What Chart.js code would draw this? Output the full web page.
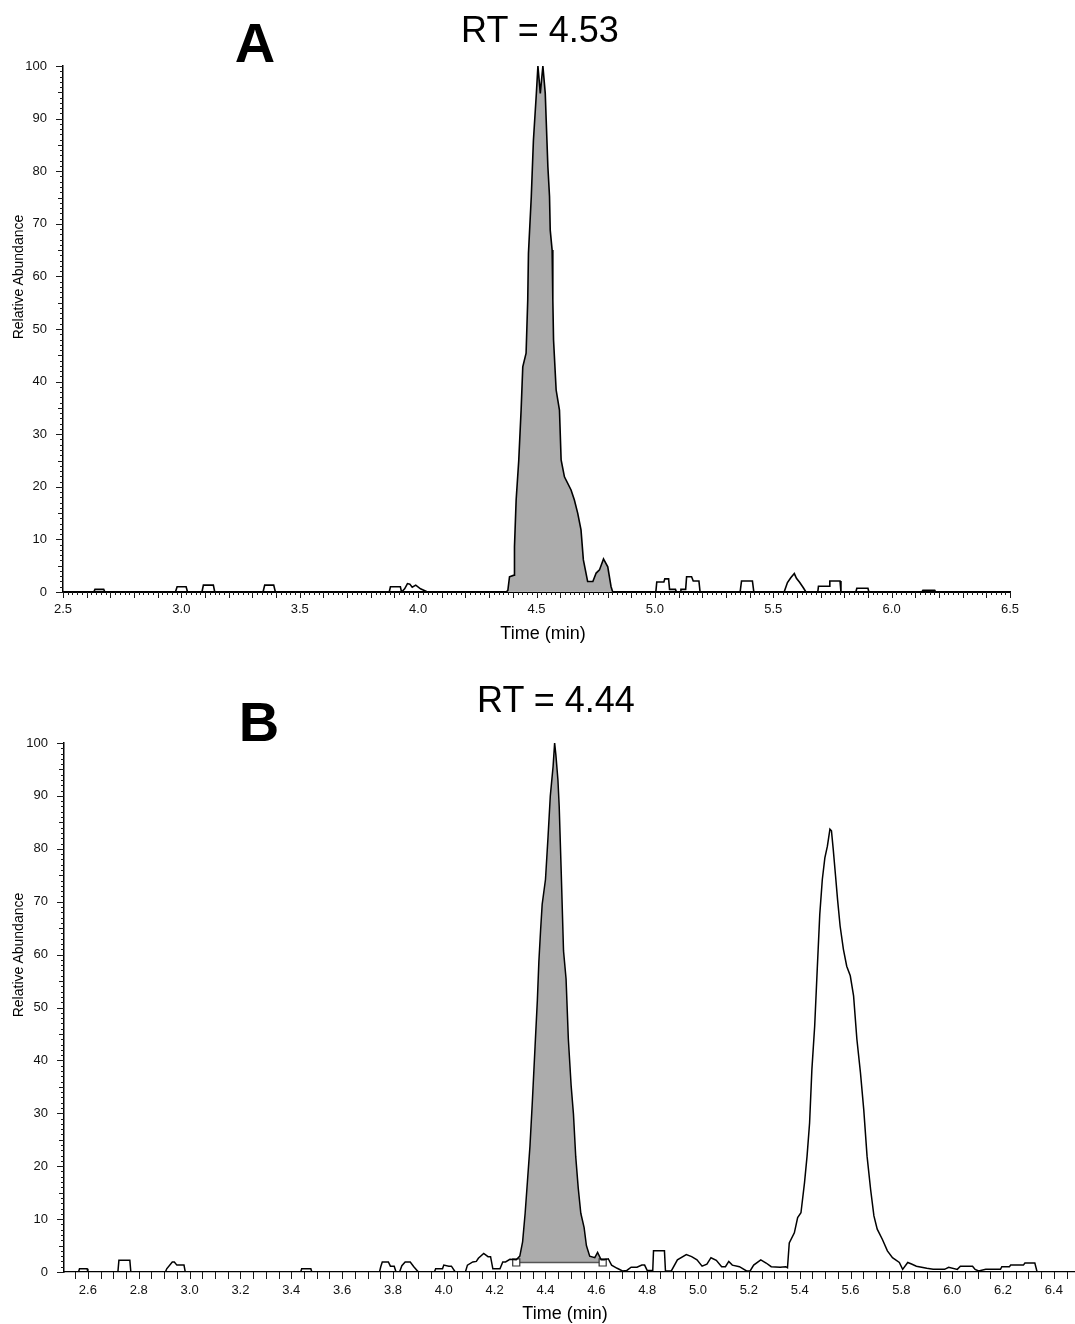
<!DOCTYPE html>
<html>
<head>
<meta charset="utf-8">
<script src="https://cdn.jsdelivr.net/npm/chart.js@4.4.1/dist/chart.umd.min.js"></script>
<style>
  body { margin: 0; background: #fff; font-family: "Liberation Sans", Arial, sans-serif; }
  #page { position: relative; width: 1075px; height: 1324px; overflow: hidden; background: #fff; }
  .panel { position: absolute; left: 0; width: 1075px; }
  .lbl { position: absolute; white-space: nowrap; color: #000; transform: translate(-50%, -50%); line-height: 1; }
  .big { font-weight: bold; font-size: 56px; }
  .rt { font-size: 36px; }
  .xt { font-size: 18px; }
  .yt { font-size: 14px; transform: translate(-50%, -50%) rotate(-90deg); }
</style>
</head>
<body>
<div id="page">
  <div class="panel" style="top:0;height:660px"><canvas id="chartA"></canvas></div>
  <div class="panel" style="top:662px;height:662px"><canvas id="chartB"></canvas></div>

  <div class="lbl big" style="left:255px;top:43px">A</div>
  <div class="lbl rt" style="left:540px;top:30px">RT = 4.53</div>
  <div class="lbl xt" style="left:543px;top:633px">Time (min)</div>
  <div class="lbl yt" style="left:18px;top:277px">Relative Abundance</div>

  <div class="lbl big" style="left:259px;top:722px">B</div>
  <div class="lbl rt" style="left:556px;top:700px">RT = 4.44</div>
  <div class="lbl xt" style="left:565px;top:1313px">Time (min)</div>
  <div class="lbl yt" style="left:18px;top:955px">Relative Abundance</div>
</div>

<script>
// chromatogram A, vertices
const timeA = [2.50,
  2.63, 2.635, 2.672, 2.677,
  2.975, 2.982, 3.02, 3.026,
  3.087, 3.093, 3.135, 3.141,
  3.345, 3.352, 3.39, 3.397,
  3.878, 3.883, 3.925, 3.93, 3.943, 3.955, 3.965, 3.975, 3.99, 4.01, 4.04,
  4.372, 4.379, 4.386, 4.405, 4.407, 4.414, 4.425, 4.435, 4.442, 4.456, 4.463, 4.466, 4.478, 4.487, 4.499, 4.506,
  4.516, 4.527, 4.537, 4.541, 4.548, 4.555, 4.558, 4.566, 4.569, 4.572, 4.583, 4.597, 4.604, 4.618, 4.646, 4.66,
  4.674, 4.688, 4.698, 4.716, 4.738, 4.752, 4.766, 4.783, 4.801, 4.815, 4.822,
  5.004, 5.008, 5.038, 5.042, 5.058, 5.062, 5.087, 5.091,
  5.108, 5.11, 5.13, 5.134, 5.155, 5.162, 5.186, 5.191,
  5.36, 5.366, 5.412, 5.418,
  5.546, 5.56, 5.574, 5.589, 5.598, 5.612, 5.627, 5.638,
  5.688, 5.691, 5.736, 5.739, 5.782, 5.786,
  5.849, 5.853, 5.90, 5.904,
  6.128, 6.132, 6.182, 6.186,
  6.5];
const abundA = [0,
  0, 0.5, 0.5, 0,
  0, 1.0, 1.0, 0,
  0, 1.3, 1.3, 0,
  0, 1.3, 1.3, 0,
  0, 1.0, 1.0, 0, 0.6, 1.6, 1.5, 0.9, 1.3, 0.6, 0,
  0, 0.3, 2.9, 3.2, 8.6, 17.5, 25, 34.6, 42.8, 45.4, 55.5, 64.4, 75.2, 85.9, 94.5, 100,
  94.8, 100, 94.8, 89.7, 80.9, 75.2, 68.8, 65, 55.5, 47.9, 38.4, 34.6, 25.1, 21.9, 19.4, 17.5,
  15, 11.8, 6.1, 2.0, 2.0, 3.6, 4.2, 6.3, 4.8, 1.0, 0,
  0, 1.9, 1.9, 2.5, 2.5, 0.5, 0.5, 0,
  0, 0.5, 0.5, 2.9, 2.9, 2.1, 2.1, 0,
  0, 2.1, 2.1, 0,
  0, 1.8, 2.7, 3.5, 2.6, 1.8, 0.8, 0,
  0, 1.1, 1.1, 2.1, 2.1, 0,
  0, 0.7, 0.7, 0,
  0, 0.3, 0.3, 0,
  0];
const peakA = [4.372, 4.822];

// chromatogram B
const timeB = [2.50,
  2.563, 2.567, 2.597, 2.60,
  2.718, 2.722, 2.765, 2.769,
  2.905, 2.91, 2.932, 2.94, 2.95, 2.978, 2.983,
  3.437, 3.441, 3.477, 3.481,
  3.747, 3.752, 3.758, 3.782, 3.79, 3.805, 3.812,
  3.826, 3.835, 3.848, 3.868, 3.882, 3.90,
  3.963, 3.968, 3.995, 4.0, 4.02, 4.03, 4.045,
  4.085, 4.093, 4.114, 4.128, 4.136, 4.157, 4.174, 4.184, 4.193, 4.221, 4.232, 4.243, 4.26, 4.285,
  4.299, 4.31, 4.32, 4.329, 4.339, 4.348, 4.359, 4.368, 4.374, 4.381, 4.387, 4.40, 4.41, 4.419, 4.43, 4.436,
  4.441, 4.449, 4.454, 4.462, 4.471, 4.481, 4.49, 4.501, 4.51, 4.519, 4.529, 4.539, 4.552, 4.561, 4.574, 4.594,
  4.605, 4.619, 4.632, 4.647, 4.66, 4.682, 4.703, 4.72, 4.737, 4.76, 4.779, 4.79, 4.80, 4.822, 4.825, 4.868,
  4.872, 4.895, 4.919, 4.954, 4.975, 4.996, 5.016, 5.035, 5.051, 5.072, 5.093, 5.108, 5.121, 5.135, 5.163, 5.191,
  5.205, 5.219, 5.247, 5.268, 5.288, 5.323, 5.345, 5.352,
  5.359, 5.379, 5.392, 5.405, 5.419, 5.429, 5.439, 5.448, 5.459, 5.469, 5.479, 5.489, 5.499, 5.509, 5.519, 5.525,
  5.532, 5.541, 5.549, 5.559, 5.572, 5.585, 5.599, 5.612, 5.625, 5.639, 5.652, 5.665, 5.679, 5.692, 5.705, 5.725,
  5.745, 5.765, 5.792, 5.805, 5.825, 5.84, 5.859, 5.90, 5.925, 5.97, 5.986, 6.02, 6.032, 6.08, 6.09, 6.104,
  6.132, 6.19, 6.195, 6.225, 6.23, 6.28, 6.286, 6.325, 6.334, 6.483];
const abundB = [0,
  0, 0.6, 0.6, 0,
  0, 2.2, 2.2, 0,
  0, 0.6, 1.9, 1.9, 1.3, 1.3, 0,
  0, 0.6, 0.6, 0,
  0, 1.0, 1.9, 1.9, 1.1, 1.1, 0,
  0, 1.2, 1.9, 1.9, 1.0, 0,
  0, 0.6, 0.6, 1.3, 1.1, 1.1, 0,
  0, 1.3, 1.9, 2.0, 2.6, 3.5, 2.9, 2.9, 0.6, 0.6, 1.9, 1.9, 2.4, 2.3,
  3.0, 5.7, 11.1, 17.1, 23.8, 31.9, 42.6, 51.3, 58.7, 64.8, 69.5, 74.2, 82.2, 90, 95.6, 100,
  97.7, 93, 88, 75.5, 60.7, 55.4, 44, 35.2, 29.9, 21.8, 15.8, 11.1, 8.4, 5.0, 3.0, 2.7,
  3.7, 2.3, 2.3, 2.5, 1.3, 0.7, 0.2, 0.3, 0.9, 0.9, 1.3, 1.3, 0.3, 0.3, 4.0, 4.0,
  0.2, 0.2, 2.3, 3.3, 2.9, 2.3, 1.1, 1.5, 2.7, 2.2, 1.0, 1.0, 2.0, 1.3, 1.0, 0.2,
  0.2, 1.3, 2.3, 1.7, 1.0, 0.9, 1.0, 0.8,
  5.5, 7.4, 10.3, 11.2, 16.9, 21.9, 28.2, 38.3, 46.5, 57.2, 67.6, 74.2, 78.3, 80.5, 83.7, 83.4,
  79.9, 74.9, 70.4, 65.4, 61, 57.8, 56, 52.2, 44, 37.7, 30.7, 21.9, 15.6, 10.6, 8.1, 6.2,
  4.0, 2.7, 1.8, 0.5, 1.8, 1.5, 1.1, 0.7, 0.5, 0.5, 0.9, 0.5, 1.1, 1.1, 0.5, 0.2,
  0.5, 0.5, 1.0, 1.0, 1.3, 1.3, 1.7, 1.7, 0, 0];
const peakB = [4.285, 4.625];
const baselineB = 1.8;

// tick labels
const xTicksA = [2.5, 3.0, 3.5, 4.0, 4.5, 5.0, 5.5, 6.0, 6.5];
const xTicksB = [2.6, 2.8, 3.0, 3.2, 3.4, 3.6, 3.8, 4.0, 4.2, 4.4, 4.6, 4.8, 5.0, 5.2, 5.4, 5.6, 5.8, 6.0, 6.2, 6.4];
const yTicks = [0, 10, 20, 30, 40, 50, 60, 70, 80, 90, 100];

const FONT = '"Liberation Sans", Arial, sans-serif';
const FILL = '#acacac';

function toPoints(ts, ys) {
  return ts.map((t, i) => ({ x: t, y: ys[i] }));
}

function isMult(v, step) {
  const r = v / step;
  return Math.abs(r - Math.round(r)) < 1e-6;
}

// ruler ticks on both axes
const rulerTicks = {
  id: 'rulerTicks',
  afterDraw(chart, args, opts) {
    const { ctx, chartArea, scales: { x, y } } = chart;
    ctx.save();
    ctx.strokeStyle = '#1a1a1a';
    ctx.lineWidth = 1;
    ctx.beginPath();
    const start = Math.ceil(x.min / opts.xStep - 1e-6);
    for (let k = start; k * opts.xStep <= x.max + 1e-6; k++) {
      const v = k * opts.xStep;
      const px = Math.round(x.getPixelForValue(v)) + 0.5;
      let len = opts.xShort;
      if (isMult(v, opts.xMid)) len = opts.xLong;
      ctx.moveTo(px, chartArea.bottom);
      ctx.lineTo(px, chartArea.bottom + len);
    }
    for (let v = 0; v <= 100; v++) {
      const py = Math.round(y.getPixelForValue(v)) + 0.5;
      let len = 3;
      if (v % 5 === 0) len = 5;
      if (v % 10 === 0) len = 7;
      ctx.moveTo(chartArea.left, py);
      ctx.lineTo(chartArea.left - len, py);
    }
    ctx.stroke();
    ctx.restore();
  }
};

function buildChart(id, cfg) {
  return new Chart(document.getElementById(id), {
    type: 'line',
    data: { datasets: cfg.datasets },
    options: {
      responsive: true,
      maintainAspectRatio: false,
      animation: false,
      events: [],
      layout: { autoPadding: false, padding: { top: cfg.top, right: cfg.right, left: 0, bottom: 0 } },
      plugins: {
        legend: { display: false },
        tooltip: { enabled: false },
        rulerTicks: cfg.ruler,
      },
      scales: {
        x: {
          type: 'linear',
          min: cfg.xMin,
          max: cfg.xMax,
          afterBuildTicks: (scale) => { scale.ticks = cfg.xTicks.map((v) => ({ value: v })); },
          afterFit: (scale) => { scale.height = cfg.xAxisHeight; },
          grid: { display: true, drawOnChartArea: false, drawTicks: true, tickLength: cfg.xTickLen, tickColor: 'rgba(0,0,0,0)' },
          border: { display: true, color: '#000', width: cfg.xAxisWidth },
          ticks: {
            padding: 3, color: '#111', maxRotation: 0, autoSkip: false,
            font: { family: FONT, size: 13 },
            callback: (v) => v.toFixed(1),
          },
        },
        y: {
          type: 'linear',
          min: 0,
          max: 100,
          afterBuildTicks: (scale) => { scale.ticks = yTicks.map((v) => ({ value: v })); },
          afterFit: (scale) => { scale.width = cfg.left; },
          grid: { display: true, drawOnChartArea: false, drawTicks: true, tickLength: 7, tickColor: 'rgba(0,0,0,0)' },
          border: { display: true, color: '#000', width: 1.5 },
          ticks: {
            padding: 9, color: '#111', autoSkip: false,
            font: { family: FONT, size: 13 },
            callback: (v) => String(v),
          },
        },
      },
    },
    plugins: [rulerTicks],
  });
}

const traceA = toPoints(timeA, abundA);
const fillA = traceA.filter((p) => p.x >= peakA[0] && p.x <= peakA[1]);

buildChart('chartA', {
  top: 66, right: 65, left: 63, xAxisHeight: 68, xTickLen: 7, xAxisWidth: 2,
  xMin: 2.5, xMax: 6.5, xTicks: xTicksA,
  ruler: { xStep: 0.02, xMid: 0.1, xShort: 3, xLong: 6 },
  datasets: [
    { data: traceA, borderColor: '#000', borderWidth: 1.6, pointRadius: 0, tension: 0, fill: false },
    { data: fillA, borderWidth: 0, pointRadius: 0, tension: 0, backgroundColor: FILL, fill: 'origin' },
  ],
});

const traceB = toPoints(timeB, abundB);
const fillB = traceB.filter((p) => p.x >= peakB[0] && p.x <= peakB[1]);

buildChart('chartB', {
  top: 81, right: 0, left: 64, xAxisHeight: 52, xTickLen: 8, xAxisWidth: 1.2,
  xMin: 2.506, xMax: 6.483, xTicks: xTicksB,
  ruler: { xStep: 0.05, xMid: 0.05, xShort: 7, xLong: 7 },
  datasets: [
    { data: traceB, borderColor: '#000', borderWidth: 1.5, pointRadius: 0, tension: 0, fill: false },
    {
      data: [{ x: peakB[0], y: baselineB }, { x: peakB[1], y: baselineB }],
      borderColor: '#555', borderWidth: 1.3, pointStyle: 'rect', pointRadius: 5,
      pointBackgroundColor: '#fff', pointBorderColor: '#333', pointBorderWidth: 1.2, fill: false,
    },
    { data: fillB, borderWidth: 0, pointRadius: 0, tension: 0, backgroundColor: FILL, fill: { value: baselineB } },
  ],
});
</script>
</body>
</html>
